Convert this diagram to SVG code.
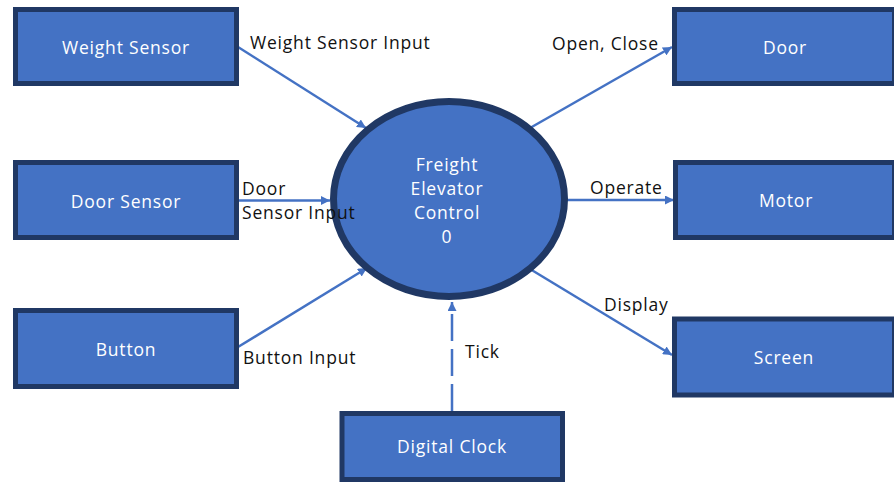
<svg xmlns="http://www.w3.org/2000/svg" width="894" height="482" viewBox="0 0 894 482">
<style>
.box{fill:#4472C4;stroke:#203864;stroke-width:5}
.lbl{font-family:"Open Sans","Noto Sans",sans-serif;font-size:17.5px;letter-spacing:0.8px;fill:#FFFFFF;text-anchor:middle}
.el{font-family:"Open Sans","Noto Sans",sans-serif;font-size:17.5px;letter-spacing:0.8px;fill:#111111}
.c{stroke:#4472C4;stroke-width:2.5;fill:none;marker-end:url(#ah)}
</style>
<defs>
<marker id="ah" markerUnits="userSpaceOnUse" markerWidth="10" markerHeight="9" refX="9" refY="4.5" orient="auto">
<path d="M0,0 L9,4.5 L0,9 z" fill="#4472C4"/>
</marker>
</defs>
<rect width="894" height="482" fill="#FFFFFF"/>
<g id="connectors">
<line class="c" x1="238" y1="47" x2="366" y2="128"/>
<line class="c" x1="238" y1="200.5" x2="330" y2="200.5"/>
<line class="c" x1="238" y1="347" x2="367" y2="268"/>
<line class="c" x1="452" y1="411" x2="452" y2="302" stroke-dasharray="27 8"/>
<line class="c" x1="530" y1="128" x2="672" y2="47"/>
<line class="c" x1="564" y1="200" x2="674" y2="200"/>
<line class="c" x1="530" y1="269" x2="672" y2="355"/>
</g>
<g id="center">
<ellipse cx="449" cy="199" rx="115.5" ry="97.5" fill="#4472C4" stroke="#203864" stroke-width="7"/>
<text class="lbl" x="447" y="171">Freight</text>
<text class="lbl" x="447" y="195">Elevator</text>
<text class="lbl" x="447" y="219">Control</text>
<text class="lbl" x="447" y="243">0</text>
</g>
<g id="connector-labels">
<text class="el" x="250" y="49">Weight Sensor Input</text>
<text class="el" x="242" y="195">Door</text>
<text class="el" x="242" y="219">Sensor Input</text>
<text class="el" x="243" y="364">Button Input</text>
<text class="el" x="465" y="358">Tick</text>
<text class="el" x="552" y="50">Open, Close</text>
<text class="el" x="590" y="194">Operate</text>
<text class="el" x="604" y="311">Display</text>
</g>
<g id="weight-sensor">
<rect class="box" x="15.5" y="9.5" width="221" height="74"/>
<text class="lbl" x="126" y="54">Weight Sensor</text>
</g>
<g id="door-sensor">
<rect class="box" x="15.5" y="162.5" width="221" height="75"/>
<text class="lbl" x="126" y="208">Door Sensor</text>
</g>
<g id="button">
<rect class="box" x="15.5" y="310.5" width="221" height="76"/>
<text class="lbl" x="126" y="356">Button</text>
</g>
<g id="digital-clock">
<rect class="box" x="342" y="413.5" width="220.5" height="66"/>
<text class="lbl" x="452" y="453">Digital Clock</text>
</g>
<g id="door">
<rect class="box" x="674.5" y="9.5" width="220" height="74"/>
<text class="lbl" x="785" y="54">Door</text>
</g>
<g id="motor">
<rect class="box" x="675.5" y="162.5" width="219" height="75"/>
<text class="lbl" x="786" y="207">Motor</text>
</g>
<g id="screen">
<rect class="box" x="674.5" y="319" width="220" height="76"/>
<text class="lbl" x="784" y="364">Screen</text>
</g>
</svg>
